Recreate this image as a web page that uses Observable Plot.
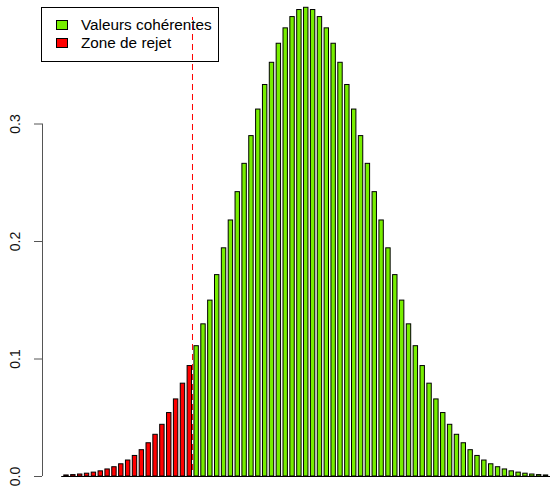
<!DOCTYPE html>
<html>
<head>
<meta charset="utf-8">
<script src="https://cdn.jsdelivr.net/npm/d3@7"></script>
<script src="https://cdn.jsdelivr.net/npm/@observablehq/plot@0.6"></script>
<style>
  body { margin: 0; background: #fff; }
  #wrap { position: relative; width: 550px; height: 487px; }
  #legend {
    position: absolute; left: 41px; top: 7px; width: 176px; height: 53px;
    border: 1px solid #000; background: transparent;
    font-family: "Liberation Sans", Arial, sans-serif; font-size: 15.3px; color: #000;
    pointer-events: none; box-sizing: content-box;
  }
  #legend .row { position: absolute; left: 14px; height: 18px; line-height: 18px; white-space: nowrap; }
  #legend .sw { display: inline-block; width: 10px; height: 8px; border: 1px solid #000; vertical-align: middle; margin-right: 13px; position: relative; top: -1px; }
</style>
</head>
<body>
<div id="wrap">
  <div id="chart"></div>
  <div id="legend"></div>
</div>
<script>
// Valeurs de x (abscisses des barres)
const xs = [-3.5,-3.4,-3.3,-3.2,-3.1,-3.0,-2.9,-2.8,-2.7,-2.6,-2.5,-2.4,-2.3,-2.2,-2.1,-2.0,-1.9,-1.8,-1.7,-1.6,-1.5,-1.4,-1.3,-1.2,-1.1,-1.0,-0.9,-0.8,-0.7,-0.6,-0.5,-0.4,-0.3,-0.2,-0.1,0.0,0.1,0.2,0.3,0.4,0.5,0.6,0.7,0.8,0.9,1.0,1.1,1.2,1.3,1.4,1.5,1.6,1.7,1.8,1.9,2.0,2.1,2.2,2.3,2.4,2.5,2.6,2.7,2.8,2.9,3.0,3.1,3.2,3.3,3.4,3.5];
// Hauteurs des barres (densité)
const densite = [0.0009,0.0012,0.0017,0.0024,0.0033,0.0044,0.0060,0.0079,0.0104,0.0136,0.0175,0.0224,0.0283,0.0355,0.0440,0.0540,0.0656,0.0790,0.0940,0.1109,0.1295,0.1497,0.1714,0.1942,0.2179,0.2420,0.2661,0.2897,0.3123,0.3332,0.3521,0.3683,0.3814,0.3910,0.3970,0.3989,0.3970,0.3910,0.3814,0.3683,0.3521,0.3332,0.3123,0.2897,0.2661,0.2420,0.2179,0.1942,0.1714,0.1497,0.1295,0.1109,0.0940,0.0790,0.0656,0.0540,0.0440,0.0355,0.0283,0.0224,0.0175,0.0136,0.0104,0.0079,0.0060,0.0044,0.0033,0.0024,0.0017,0.0012,0.0009];
const seuil = -1.645;
const categories = ["Valeurs cohérentes", "Zone de rejet"];
const couleurs = ["#77ee00", "#ff0000"];
const yTicks = [0, 0.1, 0.2, 0.3];

const xMin = d3.min(xs), xMax = d3.max(xs);
const pxPerUnit = (545.5 - 66) / (xMax - xMin);
const halfBar = 2.2 / pxPerUnit;
const axisX = xMin - (66 - 42) / pxPerUnit;
const tickLen = 8 / pxPerUnit;
const data = xs.map((x, i) => ({x, y: densite[i], cat: x > seuil ? categories[0] : categories[1]}));

const chart = Plot.plot({
  width: 550,
  height: 487,
  marginLeft: 42,
  marginRight: 0,
  marginTop: 6,
  marginBottom: 11,
  style: {fontFamily: "'Liberation Sans', Arial, sans-serif", fontSize: "14px", background: "#fff", overflow: "visible"},
  x: {domain: [xMin, xMax], range: [66, 545.5], axis: null},
  y: {domain: [0, 0.4], axis: null},
  color: {domain: categories, range: couleurs},
  marks: [
    Plot.rectY(data, {x1: d => d.x - halfBar, x2: d => d.x + halfBar, y1: 0, y2: "y", fill: "cat", stroke: "#000", strokeWidth: 1}),
    Plot.ruleY([0], {x1: xMin - 0.07, x2: xMax + 0.07, stroke: "#000", strokeWidth: 1}),
    Plot.ruleX([axisX], {y1: 0, y2: 0.3, stroke: "#555", strokeWidth: 1}),
    Plot.ruleY(yTicks, {y: d => d, x1: axisX - tickLen, x2: axisX, stroke: "#555", strokeWidth: 1}),
    Plot.text(yTicks, {x: axisX, y: d => d, text: d => d3.format(".1f")(d), rotate: -90, dx: -27, fill: "#111", fontSize: 14, textAnchor: "middle"}),
    Plot.ruleX([seuil], {stroke: "#ff0000", strokeWidth: 1, strokeDasharray: "6,4", y1: 0, y2: 0.4, insetTop: -6, insetBottom: -11, dx: -1.07})
  ]
});
document.getElementById("chart").appendChild(chart);

const legend = document.getElementById("legend");
categories.forEach((c, i) => {
  const row = document.createElement("div");
  row.className = "row";
  row.style.top = (8 + i * 18) + "px";
  const sw = document.createElement("span");
  sw.className = "sw";
  sw.style.background = couleurs[i];
  row.appendChild(sw);
  row.appendChild(document.createTextNode(c));
  legend.appendChild(row);
});
</script>
</body>
</html>
